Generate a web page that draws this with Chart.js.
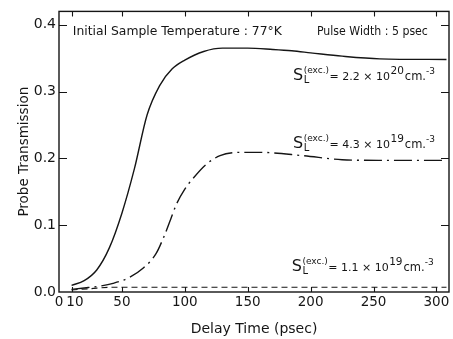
<!DOCTYPE html>
<html><head><meta charset="utf-8">
<script src="https://cdn.jsdelivr.net/npm/chart.js@4.4.1/dist/chart.umd.min.js"></script>
<style>html,body{margin:0;padding:0;background:#fff;}#wrap{width:453px;height:339px;}</style>
</head><body><div id="wrap"><canvas id="c" width="453" height="339"></canvas></div>
<script>
// ---- data ----
const delayHigh = [10, 20, 30, 40, 50, 60, 70, 80, 90, 100, 115, 130, 150, 170, 185, 200, 225, 255, 308];
const transHigh = [0.010, 0.017, 0.033, 0.066, 0.118, 0.185, 0.265, 0.309, 0.334, 0.347, 0.360, 0.365, 0.365, 0.363, 0.361, 0.358, 0.353, 0.349, 0.348];

const delayMid = [10, 20, 33, 43, 55, 67, 77, 83, 88, 93, 100, 107, 117, 128, 144, 160, 194, 225, 257, 308];
const transMid = [0.004, 0.006, 0.009, 0.013, 0.021, 0.036, 0.057, 0.081, 0.105, 0.130, 0.154, 0.171, 0.191, 0.204, 0.209, 0.209, 0.204, 0.198, 0.197, 0.197];

const delayLow = [10, 25, 40, 60, 100, 150, 200, 250, 308];
const transLow = [0.003, 0.005, 0.007, 0.007, 0.007, 0.007, 0.007, 0.007, 0.007];

const xTickValues = [0, 10, 50, 100, 150, 200, 250, 300];
const yTickValues = [0, 0.1, 0.2, 0.3, 0.4];

const concMantissas = ['2.2', '4.3', '1.1'];
const concExponents = ['20', '19', '19'];
const headerTexts = ['Initial Sample Temperature : 77°K', 'Pulse Width : 5 psec'];
const xTitle = 'Delay Time (psec)';
const yTitle = 'Probe Transmission';

// ---- layout / style (not data) ----
const FONT = '"DejaVu Sans", sans-serif';
const INK = '#151515';
const concAnchors = [[186, 0.318], [186, 0.215], [185, 0.032]];
const headerAnchors = [[11, 0.384, 209], [205, 0.384, 111]];

function pts(xs, ys) { return xs.map((x, i) => ({x: x, y: ys[i]})); }

function fitText(ctx, text, x, y, target) {
  ctx.letterSpacing = '0px';
  const w = ctx.measureText(text).width;
  if (w > target) { ctx.fillText(text, x, y, target); return; }
  const sp = (target - w) / Math.max(1, text.length - 1);
  ctx.letterSpacing = sp.toFixed(2) + 'px';
  ctx.fillText(text, x, y);
  ctx.letterSpacing = '0px';
}

function drawConc(ctx, x, y, mant, exp) {
  let cx = x;
  ctx.font = '16px ' + FONT;
  ctx.fillText('S', cx, y);
  cx += ctx.measureText('S').width + 0.5;
  ctx.font = '9px ' + FONT;
  ctx.fillText('(exc.)', cx, y - 7);
  ctx.font = '10px ' + FONT;
  ctx.fillText('L', cx, y + 3);
  ctx.font = '9px ' + FONT;
  cx += ctx.measureText('(exc.)').width + 0.5;
  ctx.font = '11px ' + FONT;
  const mid = '= ' + mant + ' × 10';
  ctx.fillText(mid, cx, y);
  cx += ctx.measureText(mid).width + 0.5;
  ctx.font = '10.5px ' + FONT;
  ctx.fillText(exp, cx, y - 6);
  cx += ctx.measureText(exp).width + 1;
  ctx.font = '11.5px ' + FONT;
  ctx.fillText('cm.', cx, y);
  cx += ctx.measureText('cm.').width;
  ctx.font = '9px ' + FONT;
  ctx.fillText('-3', cx, y - 6);
}

const framePlugin = {
  id: 'frame',
  afterDraw(chart) {
    const ctx = chart.ctx, a = chart.chartArea;
    const xs = chart.scales.x, ys = chart.scales.y;
    ctx.save();
    ctx.strokeStyle = INK;
    ctx.lineWidth = 1.4;
    ctx.strokeRect(a.left, a.top, a.right - a.left, a.bottom - a.top);
    ctx.lineWidth = 1.1;
    ctx.beginPath();
    xTickValues.forEach(v => {
      if (v === 0) return;
      const px = Math.round(xs.getPixelForValue(v)) + 0.5;
      ctx.moveTo(px, a.bottom); ctx.lineTo(px, a.bottom - 5);
      ctx.moveTo(px, a.top); ctx.lineTo(px, a.top + 5);
    });
    yTickValues.forEach(v => {
      if (v === 0) return;
      const py = Math.round(ys.getPixelForValue(v)) + 0.5;
      ctx.moveTo(a.left, py); ctx.lineTo(a.left + 8, py);
      ctx.moveTo(a.right, py); ctx.lineTo(a.right - 8, py);
    });
    ctx.stroke();

    ctx.fillStyle = INK;
    ctx.textBaseline = 'alphabetic';
    ctx.textAlign = 'left';
    ctx.font = '13px ' + FONT;
    headerTexts.forEach((t, i) => {
      const [hx, hy, w] = headerAnchors[i];
      fitText(ctx, t, xs.getPixelForValue(hx), ys.getPixelForValue(hy), w);
    });
    concMantissas.forEach((m, i) => {
      const [cx, cy] = concAnchors[i];
      drawConc(ctx, xs.getPixelForValue(cx), ys.getPixelForValue(cy), m, concExponents[i]);
    });
    ctx.restore();
  }
};

new Chart(document.getElementById('c'), {
  type: 'line',
  data: {
    datasets: [
      { data: pts(delayHigh, transHigh), borderColor: INK, borderWidth: 1.4, pointRadius: 0, cubicInterpolationMode: 'monotone', fill: false },
      { data: pts(delayMid, transMid), borderColor: INK, borderWidth: 1.4, borderDash: [18, 5, 2, 5], pointRadius: 0, cubicInterpolationMode: 'monotone', fill: false },
      { data: pts(delayLow, transLow), borderColor: INK, borderWidth: 1.1, borderDash: [6, 4], pointRadius: 0, cubicInterpolationMode: 'monotone', fill: false }
    ]
  },
  options: {
    responsive: false,
    animation: false,
    layout: { padding: { top: 6, right: 4, left: 0, bottom: 0 } },
    plugins: { legend: { display: false }, tooltip: { enabled: false } },
    scales: {
      x: {
        type: 'linear', min: 0, max: 310,
        afterBuildTicks: s => { s.ticks = xTickValues.map(v => ({value: v})); },
        afterFit: s => { s.height = 47; },
        grid: { display: false, drawTicks: false },
        border: { display: false },
        ticks: { color: INK, font: { family: FONT, size: 13.5 }, padding: 2, maxRotation: 0, autoSkip: false,
                 callback: v => (v === 10 ? '\u2002' + v : String(v)) },
        title: { display: true, text: xTitle, color: INK, font: { family: FONT, size: 14 }, padding: { top: 0, bottom: 1 } }
      },
      y: {
        type: 'linear', min: 0, max: 0.42,
        afterBuildTicks: s => { s.ticks = yTickValues.map(v => ({value: v})); },
        afterFit: s => { s.width = 59; },
        grid: { display: false, drawTicks: false },
        border: { display: false },
        ticks: { color: INK, font: { family: FONT, size: 14 }, padding: 3, autoSkip: false, callback: v => v.toFixed(1) },
        title: { display: true, text: yTitle, color: INK, font: { family: FONT, size: 13.5 }, padding: { top: 16, bottom: 0 } }
      }
    }
  },
  plugins: [framePlugin]
});
</script>
</body></html>
